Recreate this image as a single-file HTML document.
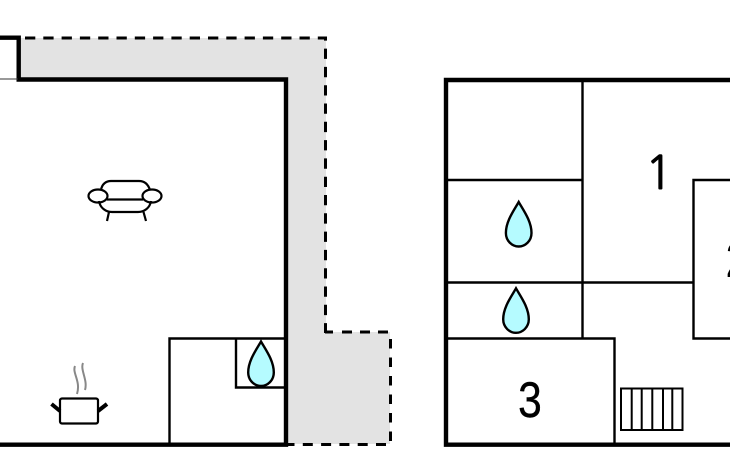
<!DOCTYPE html>
<html>
<head>
<meta charset="utf-8">
<style>
html,body{margin:0;padding:0;background:#fff}
svg{display:block}
text{font-family:"Liberation Sans",sans-serif;font-size:50px;fill:#000}
</style>
</head>
<body>
<svg width="730" height="450" viewBox="0 0 730 450" xmlns="http://www.w3.org/2000/svg">
<defs>
<path id="d" d="M0 0 C4.500 8 12.800 19 12.800 31 C12.800 39 6.500 44.500 0 44.500 C-6.500 44.500 -12.800 39 -12.800 31 C-12.800 19 -4.500 8 0 0 Z" fill="#b5fbff" stroke="#000" stroke-width="2.400"/>
</defs>
<!-- gray outdoor area -->
<polygon points="19,38 326,38 326,332 390,332 390,444 288,444 288,79 19,79" fill="#e3e3e3"/>
<g fill="none" stroke="#000" stroke-width="3">
<path d="M25 38H325.500V333" stroke-dasharray="10.300 8"/>
<path d="M325 332H333M342 332H390" stroke-dasharray="10 8"/>
<path d="M390.500 339V444" stroke-dasharray="9.500 9"/>
<path d="M386 444.500H288" stroke-dasharray="10 8.300"/>
</g>
<!-- left building -->
<path d="M0 37.700H18.700V79.500H286V444.700H0" fill="none" stroke="#000" stroke-width="4.400"/>
<path d="M0 79H18" stroke="#333" stroke-width="1"/>
<path d="M169.500 445V338.500H286M236 338.500V387.500H286" fill="none" stroke="#000" stroke-width="2.400"/>
<use href="#d" x="261" y="341.500"/>
<!-- armchair -->
<g fill="none" stroke="#000" stroke-width="2.200">
<path d="M101 190C102 184 106 181 111 181H139C144 181 148 184 150 190"/>
<path d="M99 201C100 208 106 212 112 212H138C144 212 150 208 151 201"/>
<path d="M107 199.500H143"/>
<ellipse cx="98" cy="196" rx="9.500" ry="6.500"/>
<ellipse cx="152" cy="196" rx="9.500" ry="6.500"/>
<path d="M109 212L107 221M143.500 212L146 221"/>
</g>
<!-- pot -->
<rect x="60" y="398.500" width="38" height="25" rx="2" fill="#fff" stroke="#000" stroke-width="2.200"/>
<path d="M51.500 404L60 411M107 404L98 411" stroke="#000" stroke-width="4"/>
<path d="M75 366C72 373 81 381 77 394M83 363C80 370 88 380 85 390" fill="none" stroke="#888" stroke-width="2"/>
<!-- right building -->
<path d="M730 80H446V444.700H730" fill="none" stroke="#000" stroke-width="4.400"/>
<g fill="none" stroke="#000" stroke-width="2.400">
<path d="M582.500 80V338.500"/>
<path d="M446 180H582.500"/>
<path d="M446 282.500H693"/>
<path d="M730 180H693.500V338.500H730"/>
<path d="M446 338.500H614.500V445"/>
</g>
<use href="#d" x="518.700" y="202"/>
<use href="#d" x="516" y="288.300"/>
<!-- stairs -->
<g fill="none" stroke="#000" stroke-width="2">
<rect x="621" y="388.500" width="61.500" height="41.500"/>
<path d="M631.700 388.500V430M641.700 388.500V430M652.300 388.500V430M663 388.500V430M672.300 388.500V430"/>
</g>
<text x="659" y="189" text-anchor="middle" stroke="#000" stroke-width="0.900" style="font-family:'NanumGothic','Liberation Sans',sans-serif;font-size:46px">1</text>
<text transform="translate(725.500 277) scale(.85 1)">2</text>
<text transform="translate(530 417) scale(.85 1)" text-anchor="middle" stroke="#000" stroke-width="0.400">3</text>
</svg>
</body>
</html>
